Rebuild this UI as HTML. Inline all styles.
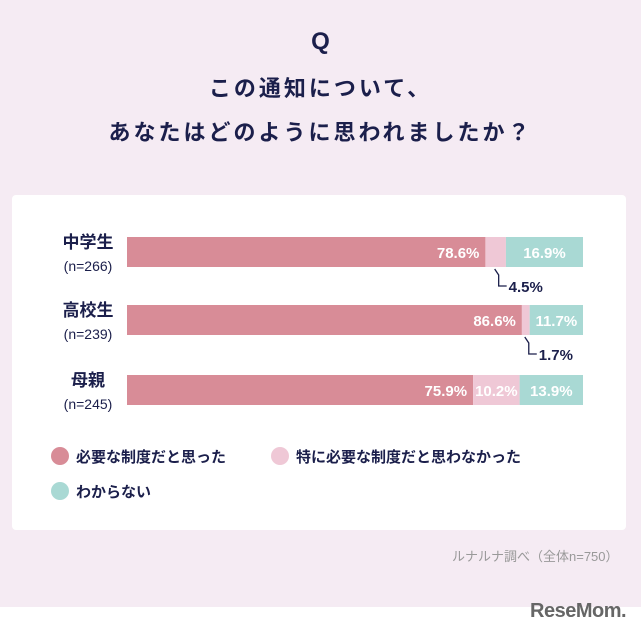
<!DOCTYPE html>
<html><head><meta charset="utf-8">
<style>
body{margin:0;width:641px;height:638px;background:#fff;font-family:"Liberation Sans","Noto Sans CJK JP",sans-serif;position:relative;overflow:hidden}
#bg{position:absolute;left:0;top:0;width:641px;height:607px;background:#f5ebf3}
#card{position:absolute;left:12px;top:195px;width:614px;height:335px;background:#fff;border-radius:4px}
.t{position:absolute;color:#1b1f4b;font-weight:bold;text-align:center;width:641px;left:0}
</style></head><body>
<div id="bg"></div>
<div class="t" style="top:28px;font-size:24px">Q</div>
<div class="t" style="top:71px;font-size:22px;letter-spacing:3px">この通知について、</div>
<div class="t" style="top:115px;font-size:22px;letter-spacing:3px">あなたはどのように思われましたか？</div>
<div id="card"></div>
<svg id="chart" width="641" height="638" style="position:absolute;left:0;top:0"></svg>
<div style="position:absolute;left:452px;top:546px;font-size:13px;color:#999">ルナルナ調べ（全体n=750）</div>
<div style="position:absolute;left:530px;top:600px;font-size:20px;font-weight:bold;color:#666;letter-spacing:-0.5px">ReseMom.</div>
<script>
const categories=["中学生","高校生","母親"];
const samples=["(n=266)","(n=239)","(n=245)"];
const necessary=[78.6,86.6,75.9];
const notNecessary=[4.5,1.7,10.2];
const unknown=[16.9,11.7,13.9];
const seriesNames=["必要な制度だと思った","特に必要な制度だと思わなかった","わからない"];
const colors=["#d88c97","#efc8d6","#a9d9d4"];
const svg=document.getElementById('chart');
const NS="http://www.w3.org/2000/svg";
const x0=127,w=456,barTops=[237,305,375],bh=30;
function xs(v){return v/100*w;}
function mk(t,a){const e=document.createElementNS(NS,t);for(const k in a)e.setAttribute(k,a[k]);svg.appendChild(e);return e;}
const series=[necessary,notNecessary,unknown];
categories.forEach((c,i)=>{
  const y=barTops[i];
  let cx=x0;
  const l1=mk('text',{x:88,y:y+11,'text-anchor':'middle','font-size':17,'font-weight':'bold',fill:'#1b1f4b'});l1.textContent=c;
  
  
  const l2=mk('text',{x:88,y:y+34,'text-anchor':'middle','font-size':14,fill:'#1b1f4b'});l2.textContent=samples[i];
  
  
  series.forEach((s,j)=>{
    const v=s[i],bw=xs(v);
    const r=mk('rect',{x:cx,y:y,width:bw,height:bh,fill:colors[j]});
    
    
    if(v>=8){
      const tx=mk('text',{x:j==0?cx+bw-6:cx+bw/2,y:y+21,'text-anchor':j==0?'end':'middle','font-size':15,'font-weight':'bold',fill:'#fff'});
      tx.textContent=v.toFixed(1)+'%';
      
      
    } else {
      const mx=cx+bw/2;
      const p=mk('path',{d:`M${mx-1} ${y+bh+2} L${mx+3} ${y+bh+8} L${mx+3} ${y+bh+19} L${mx+11} ${y+bh+19}`,fill:'none',stroke:'#1b1f4b','stroke-width':1.3});
      
      
      const tx=mk('text',{x:mx+13,y:y+bh+25,'font-size':15,'font-weight':'bold',fill:'#1b1f4b'});
      tx.textContent=v.toFixed(1)+'%';
      
      
    }
    cx+=bw;
  });
});
const legPos=[[60,456],[280,456],[60,491]];
seriesNames.forEach((n,j)=>{
  const c=mk('circle',{cx:legPos[j][0],cy:legPos[j][1],r:9,fill:colors[j]});
  
  
  const t=mk('text',{x:legPos[j][0]+16,y:legPos[j][1]+6,'font-size':15,'font-weight':'bold',fill:'#1b1f4b'});
  t.textContent=n;
  
  
});
</script>
</body></html>
